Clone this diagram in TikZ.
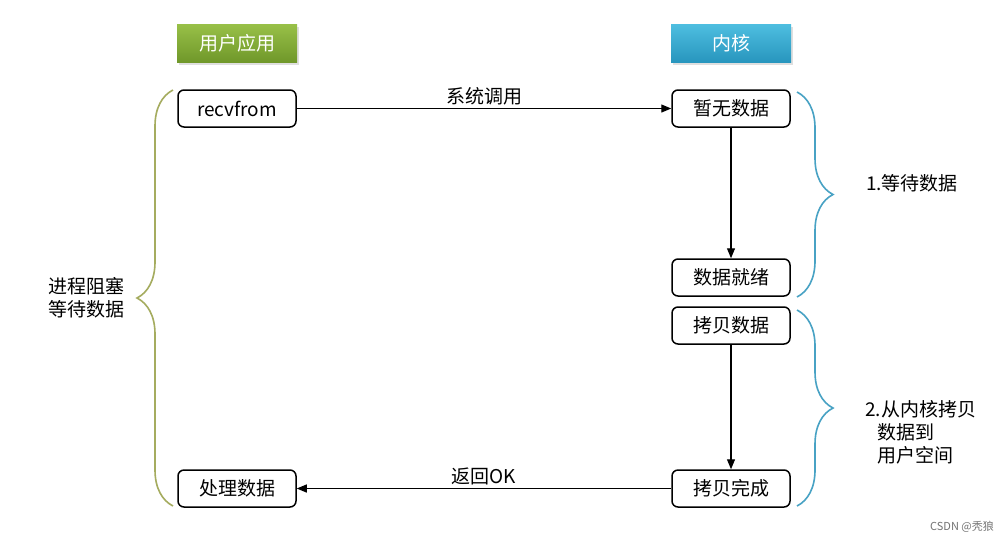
\documentclass[tikz,border=0pt]{standalone}
\usepackage{fontspec}
\setmainfont{Noto Sans CJK SC}
\usetikzlibrary{arrows.meta,decorations.pathreplacing,shadows}
\definecolor{gtop}{RGB}{152,192,72}
\definecolor{gbot}{RGB}{112,152,42}
\definecolor{btop}{RGB}{78,190,224}
\definecolor{bbot}{RGB}{40,150,190}
\definecolor{gbrace}{RGB}{165,172,95}
\definecolor{bbrace}{RGB}{72,162,196}
\begin{document}
\begin{tikzpicture}[x=1pt,y=-1pt,
  txt/.style={font=\fontsize{19}{22}\selectfont, inner sep=0pt},
  header/.style={minimum width=120pt, minimum height=38pt, text=white,
     font=\fontsize{19}{22}\selectfont, drop shadow={shadow xshift=2pt,shadow yshift=-3pt,opacity=0.25}},
  stepbox/.style={draw=black, line width=1.5pt, rounded corners=6pt,
     minimum width=118pt, minimum height=37pt, fill=white,
     font=\fontsize{19}{22}\selectfont},
  arr/.style={line width=1.2pt, -{Triangle[length=10pt,width=8pt]}},
  brace/.style={line width=1.6pt, decorate, decoration={brace, amplitude=36pt}}
]
\useasboundingbox (0,0) rectangle (1008,542);
\fill[white] (0,0) rectangle (1008,542);

\node[header, top color=gtop, bottom color=gbot] (hu) at (237,43) {用户应用};
\node[header, top color=btop, bottom color=bbot] (hk) at (731,43) {内核};

\node[stepbox] (recv) at (237,108.5) {recvfrom};
\node[stepbox] (none) at (731,108.5) {暂无数据};
\node[stepbox] (ready) at (731,277.5) {数据就绪};
\node[stepbox] (copy) at (731,325.5) {拷贝数据};
\node[stepbox] (done) at (731,488.5) {拷贝完成};
\node[stepbox] (proc) at (237,488.5) {处理数据};

\draw[arr] (recv) -- (none) node[midway, txt, above=3pt] {系统调用};
\draw[arr] (none) -- (ready);
\draw[arr] (copy) -- (done);
\draw[arr] (done) -- (proc) node[midway, txt, above=3pt] {返回OK};

\coordinate (lb1) at (173,506);
\coordinate (lb2) at (173,90);
\draw[brace, gbrace] (lb1) -- (lb2);
\coordinate (rb1) at (797,92);
\coordinate (rb2) at (797,297);
\draw[brace, bbrace] (rb1) -- (rb2);
\coordinate (rc1) at (797,310);
\coordinate (rc2) at (797,506);
\draw[brace, bbrace] (rc1) -- (rc2);

\node[txt, align=left] (left) at (86,297.5) {进程阻塞\\[1pt]等待数据};
\node[txt] (w1) at (912,183) {1.等待数据};
\node[txt, anchor=west] (w2a) at (865,409) {2.从内核拷贝};
\node[txt, anchor=west] (w2b) at (877,432) {数据到};
\node[txt, anchor=west] (w2c) at (877,455) {用户空间};

\node[anchor=east, text=black!55, font=\fontsize{11}{13}\selectfont, inner sep=0pt] (wm) at (994,527) {CSDN @秃狼};
\end{tikzpicture}
\end{document}
